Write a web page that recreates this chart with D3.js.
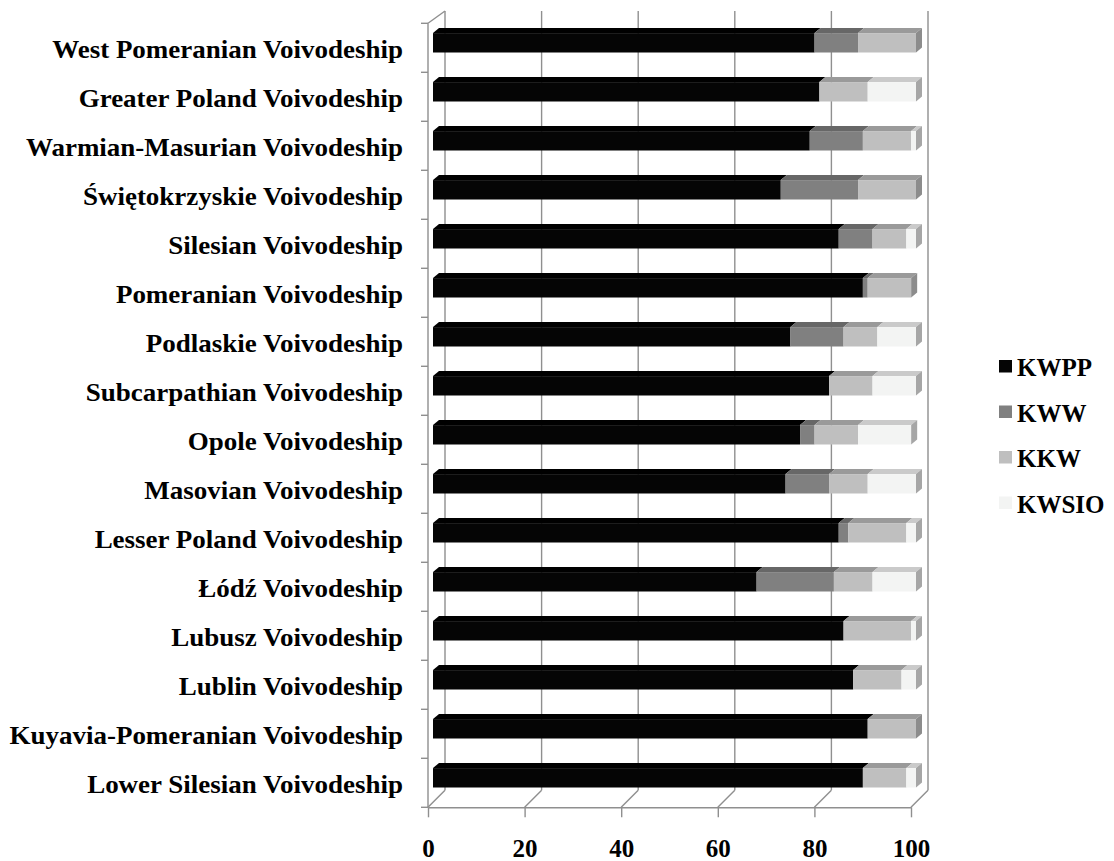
<!DOCTYPE html>
<html>
<head>
<meta charset="utf-8">
<script src="https://cdn.jsdelivr.net/npm/d3@7"></script>
<style>
  html, body { margin: 0; padding: 0; background: #fff; }
  svg text { font-family: "Liberation Serif", "Times New Roman", serif; font-weight: bold; fill: #000; }
</style>
</head>
<body>
<svg id="chart" width="1114" height="861"></svg>
<script>
// ---- data (top to bottom as shown) ----
const categories = [
  "West Pomeranian Voivodeship",
  "Greater Poland Voivodeship",
  "Warmian-Masurian Voivodeship",
  "Świętokrzyskie Voivodeship",
  "Silesian Voivodeship",
  "Pomeranian Voivodeship",
  "Podlaskie Voivodeship",
  "Subcarpathian Voivodeship",
  "Opole Voivodeship",
  "Masovian Voivodeship",
  "Lesser Poland Voivodeship",
  "Łódź Voivodeship",
  "Lubusz Voivodeship",
  "Lublin Voivodeship",
  "Kuyavia-Pomeranian Voivodeship",
  "Lower Silesian Voivodeship"
];
const seriesNames = ["KWPP", "KWW", "KKW", "KWSIO"];
const KWPP  = [79, 80, 78, 72, 84, 89, 74, 82, 76, 73, 84, 67, 85, 87, 90, 89];
const KWW   = [ 9,  0, 11, 16,  7,  1, 11,  0,  3,  9,  2, 16,  0,  0,  0,  0];
const KKW   = [12, 10, 10, 12,  7,  9,  7,  9,  9,  8, 12,  8, 14, 10, 10,  9];
const KWSIO = [ 0, 10,  1,  0,  2,  0,  8,  9, 11, 10,  2,  9,  1,  3,  0,  2];
const xTicks = [0, 20, 40, 60, 80, 100];

// ---- styles ----
const frontColors = {KWPP: "#050505", KWW: "#808080", KKW: "#bfbfbf", KWSIO: "#f3f4f3"};
const topColors   = {KWPP: "#000000", KWW: "#676767", KKW: "#9a9a9a", KWSIO: "#cacaca"};
const sideColors  = {KWPP: "#000000", KWW: "#5c5c5c", KKW: "#8c8c8c", KWSIO: "#a6a6a6"};
const gridColor = "#8f8f8f";

const svg = d3.select("#chart");

const table = categories.map((c, i) => ({cat: c, KWPP: KWPP[i], KWW: KWW[i], KKW: KKW[i], KWSIO: KWSIO[i]}));
const stacked = d3.stack().keys(seriesNames)(table);

// front-plane scales
const x = d3.scaleLinear().domain([0, 100]).range([428, 911]);
const y = d3.scaleBand().domain(categories).range([23.3, 807.3]).padding(0);

const D = 17;       // wall depth offset
const zFront = 5;   // bar front plane depth
const bd = 6;       // bar depth
const barH = 19.4;

const yTop = 11, yBottom = 807.3;

// back wall gridlines
svg.append("g").selectAll("line").data(xTicks).join("line")
  .attr("x1", d => x(d) + D).attr("x2", d => x(d) + D)
  .attr("y1", yTop).attr("y2", yBottom - D)
  .attr("stroke", gridColor).attr("stroke-width", 1.4);

// floor slants
svg.append("g").selectAll("line").data(xTicks).join("line")
  .attr("x1", d => x(d)).attr("x2", d => x(d) + D)
  .attr("y1", yBottom).attr("y2", yBottom - D)
  .attr("stroke", gridColor).attr("stroke-width", 1.4);

// left wall: front line + top slant + ticks
svg.append("line").attr("x1", x(0)).attr("x2", x(0)).attr("y1", y.range()[0]).attr("y2", yBottom)
  .attr("stroke", gridColor).attr("stroke-width", 1.4);
svg.append("line").attr("x1", x(0)).attr("x2", x(0) + D).attr("y1", y.range()[0]).attr("y2", yTop)
  .attr("stroke", gridColor).attr("stroke-width", 1.4);
const bounds = categories.map(c => y(c)).concat([y.range()[1]]);
svg.append("g").selectAll("line").data(bounds).join("line")
  .attr("x1", x(0) - 7).attr("x2", x(0))
  .attr("y1", d => d).attr("y2", d => d)
  .attr("stroke", gridColor).attr("stroke-width", 1.4);

// bottom axis
const xAxis = d3.axisBottom(x).tickValues(xTicks).tickSize(10).tickSizeOuter(0).tickPadding(22);
const gx = svg.append("g").attr("transform", `translate(0,${yBottom})`).call(xAxis);
gx.select(".domain").attr("stroke", gridColor).attr("stroke-width", 1.4);
gx.selectAll(".tick line").attr("stroke", gridColor).attr("stroke-width", 1.4);
gx.selectAll(".tick text").attr("font-size", 25).attr("font-family", "Liberation Serif").attr("font-weight", "bold").attr("fill", "#000").attr("dy", "0.71em");

// bars
const barsG = svg.append("g");
categories.forEach((c, i) => {
  const cy = y(c) + y.bandwidth() / 2 - zFront;
  const y0 = cy - barH / 2, y1 = cy + barH / 2;
  const segs = stacked.map(s => ({key: s.key, v0: s[i][0], v1: s[i][1]})).filter(s => s.v1 > s.v0);
  const last = segs[segs.length - 1];
  segs.forEach(s => {
    const X0 = x(s.v0) + zFront, X1 = x(s.v1) + zFront;
    barsG.append("rect").attr("x", X0).attr("y", y0).attr("width", X1 - X0).attr("height", barH)
      .attr("fill", frontColors[s.key]);
    barsG.append("polygon")
      .attr("points", [[X0, y0], [X1, y0], [X1 + bd, y0 - bd + 1], [X0 + bd, y0 - bd + 1]].map(p => p.join(",")).join(" "))
      .attr("fill", topColors[s.key]);
  });
  const X1 = x(last.v1) + zFront;
  barsG.append("polygon")
    .attr("points", [[X1, y0], [X1 + bd, y0 - bd + 1], [X1 + bd, y1 - bd + 1], [X1, y1]].map(p => p.join(",")).join(" "))
    .attr("fill", sideColors[last.key]);
});

// category labels (horizontally stretched like the reference)
svg.append("g").selectAll("text").data(categories).join("text")
  .attr("transform", d => `translate(403,${y(d) + y.bandwidth() / 2 + 10.5}) scale(1.08,1)`)
  .attr("x", 0).attr("y", 0)
  .attr("text-anchor", "end")
  .attr("font-size", 25)
  .text(d => d);

// legend
const legendY = d3.scalePoint().domain(seriesNames).range([366.5, 503]);
const lg = svg.append("g").selectAll("g").data(seriesNames).join("g")
  .attr("transform", d => `translate(999,${legendY(d)})`);
lg.append("rect").attr("x", 0).attr("y", -6.5).attr("width", 13).attr("height", 12.5)
  .attr("fill", d => frontColors[d]);
lg.append("text").attr("x", 18).attr("y", 9.5).attr("font-size", 25).text(d => d);
</script>
</body>
</html>
